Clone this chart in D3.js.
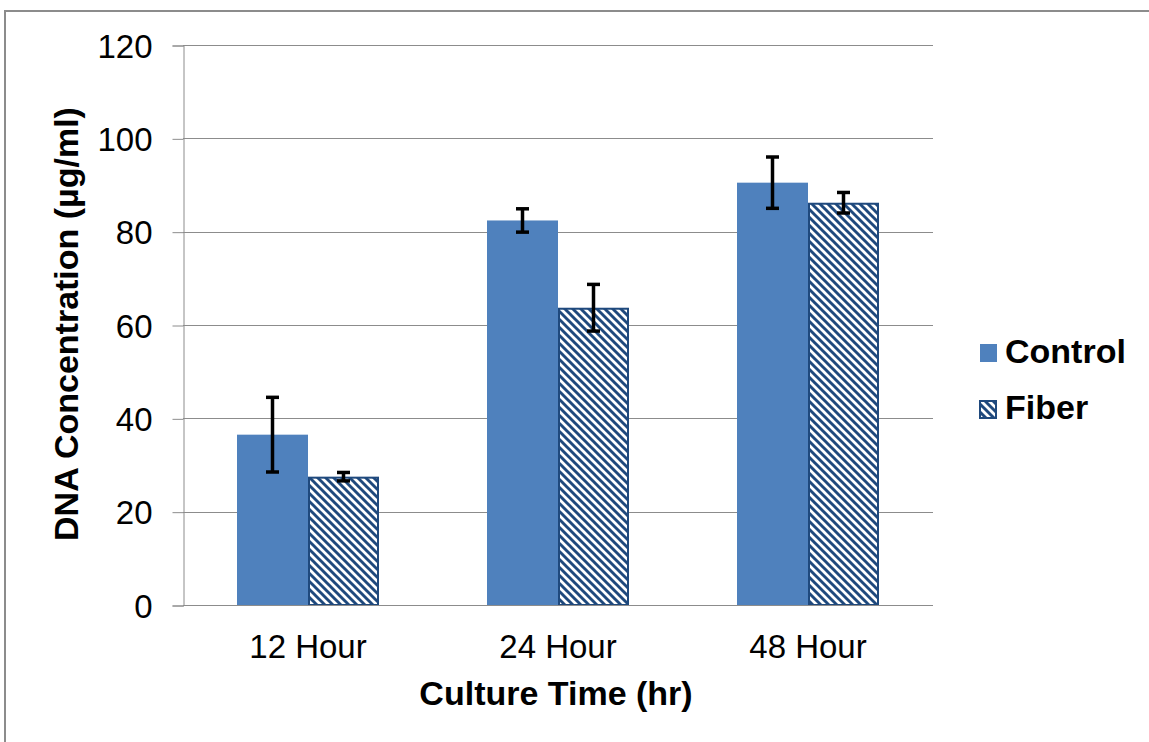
<!DOCTYPE html>
<html>
<head>
<meta charset="utf-8">
<script src="https://cdn.jsdelivr.net/npm/d3@7"></script>
<style>
  html, body { margin: 0; padding: 0; background: #fff; }
  svg { display: block; font-family: "Liberation Sans", Arial, sans-serif; }
</style>
</head>
<body>
<svg id="chart" width="1149" height="742"></svg>
<script>
const categories = ["12 Hour", "24 Hour", "48 Hour"];
const seriesNames = ["Control", "Fiber"];
const controlValues = [36.5, 82.4, 90.5];
const controlErrors = [8.0, 2.5, 5.5];
const fiberValues = [27.5, 63.7, 86.2];
const fiberErrors = [0.9, 5.0, 2.2];
const yTicks = [0, 20, 40, 60, 80, 100, 120];

const svg = d3.select("#chart");
const W = 1149, H = 742;
const plot = { left: 183, right: 933, top: 45, bottom: 605 };
const controlColor = "#4F81BD";
const hatchColor = "#1F497D";

// outer border
svg.append("rect").attr("x", 5).attr("y", 11).attr("width", W + 10).attr("height", H + 10)
  .attr("fill", "#fff").attr("stroke", "#8c8c8c").attr("stroke-width", 2);

// hatch pattern
const defs = svg.append("defs");
const pat = defs.append("pattern").attr("id", "hatch").attr("patternUnits", "userSpaceOnUse")
  .attr("width", 8).attr("height", 8);
pat.append("rect").attr("width", 8).attr("height", 8).attr("fill", "#fff");
pat.append("path").attr("d", "M-2,-2 L10,10 M-2,6 L2,10 M6,-2 L10,2")
  .attr("stroke", hatchColor).attr("stroke-width", 2.9);

const x = d3.scaleBand().domain(categories).range([plot.left, plot.right]).paddingInner(0).paddingOuter(0);
const y = d3.scaleLinear().domain([0, 120]).range([plot.bottom, plot.top]);

// gridlines
svg.append("g").selectAll("line").data(yTicks.filter(d => d > 0)).join("line")
  .attr("x1", plot.left).attr("x2", plot.right)
  .attr("y1", d => Math.round(y(d)) + 0.5).attr("y2", d => Math.round(y(d)) + 0.5)
  .attr("stroke", "#8c8c8c").attr("stroke-width", 1);

// y axis
const yAxis = d3.axisLeft(y).tickValues(yTicks).tickSize(11).tickPadding(20).tickFormat(d3.format("d"));
const gy = svg.append("g").attr("transform", `translate(${plot.left + 0.5},0.5)`).call(yAxis);
gy.select(".domain").attr("stroke", "#8c8c8c");
gy.selectAll(".tick line").attr("stroke", "#8c8c8c");
gy.selectAll(".tick text").attr("font-size", 33).attr("fill", "#000")
  .attr("font-family", "'Liberation Sans', Arial, sans-serif").attr("dy", "0.35em");

// bars
const barW = 71;
const rows = categories.map((c, i) => ({ c, cv: controlValues[i], ce: controlErrors[i], fv: fiberValues[i], fe: fiberErrors[i] }));
const gBars = svg.append("g");
rows.forEach(r => {
  const cx = x(r.c) + x.bandwidth() / 2;
  gBars.append("rect").attr("x", cx - barW).attr("y", y(r.cv)).attr("width", barW)
    .attr("height", y(0) - y(r.cv)).attr("fill", controlColor);
  gBars.append("rect").attr("x", cx + 1).attr("y", y(r.fv) + 1).attr("width", barW - 2)
    .attr("height", y(0) - y(r.fv) - 1).attr("fill", "url(#hatch)")
    .attr("stroke", hatchColor).attr("stroke-width", 2);
});

// x axis line
svg.append("line").attr("x1", plot.left).attr("x2", plot.right)
  .attr("y1", plot.bottom + 0.5).attr("y2", plot.bottom + 0.5).attr("stroke", "#8c8c8c");

// error bars
const gErr = svg.append("g").attr("stroke", "#000").attr("stroke-width", 3.5);
rows.forEach(r => {
  const cx = x(r.c) + x.bandwidth() / 2;
  [[cx - barW / 2, r.cv, r.ce], [cx + barW / 2, r.fv, r.fe]].forEach(([px, v, e]) => {
    gErr.append("line").attr("x1", px).attr("x2", px).attr("y1", y(v + e)).attr("y2", y(v - e));
    gErr.append("line").attr("x1", px - 6.5).attr("x2", px + 6.5).attr("y1", y(v + e)).attr("y2", y(v + e));
    gErr.append("line").attr("x1", px - 6.5).attr("x2", px + 6.5).attr("y1", y(v - e)).attr("y2", y(v - e));
  });
});

// x labels
svg.append("g").selectAll("text").data(categories).join("text")
  .attr("x", d => x(d) + x.bandwidth() / 2).attr("y", 658)
  .attr("text-anchor", "middle").attr("font-size", 33).attr("fill", "#000").text(d => d);

// axis titles
svg.append("text").attr("x", 556).attr("y", 705)
  .attr("text-anchor", "middle").attr("font-size", 34).attr("font-weight", "bold").text("Culture Time (hr)");
svg.append("text").attr("transform", "translate(78,324) rotate(-90)")
  .attr("text-anchor", "middle").attr("font-size", 34).attr("font-weight", "bold").text("DNA Concentration (µg/ml)");

// legend
const leg = svg.append("g");
leg.append("rect").attr("x", 980).attr("y", 344).attr("width", 17).attr("height", 18).attr("fill", controlColor);
leg.append("text").attr("x", 1005).attr("y", 363).attr("font-size", 34).attr("font-weight", "bold").text(seriesNames[0]);
leg.append("rect").attr("x", 980).attr("y", 401).attr("width", 16).attr("height", 17)
  .attr("fill", "url(#hatch)").attr("stroke", hatchColor).attr("stroke-width", 2);
leg.append("text").attr("x", 1005).attr("y", 419).attr("font-size", 34).attr("font-weight", "bold").text(seriesNames[1]);
</script>
</body>
</html>
